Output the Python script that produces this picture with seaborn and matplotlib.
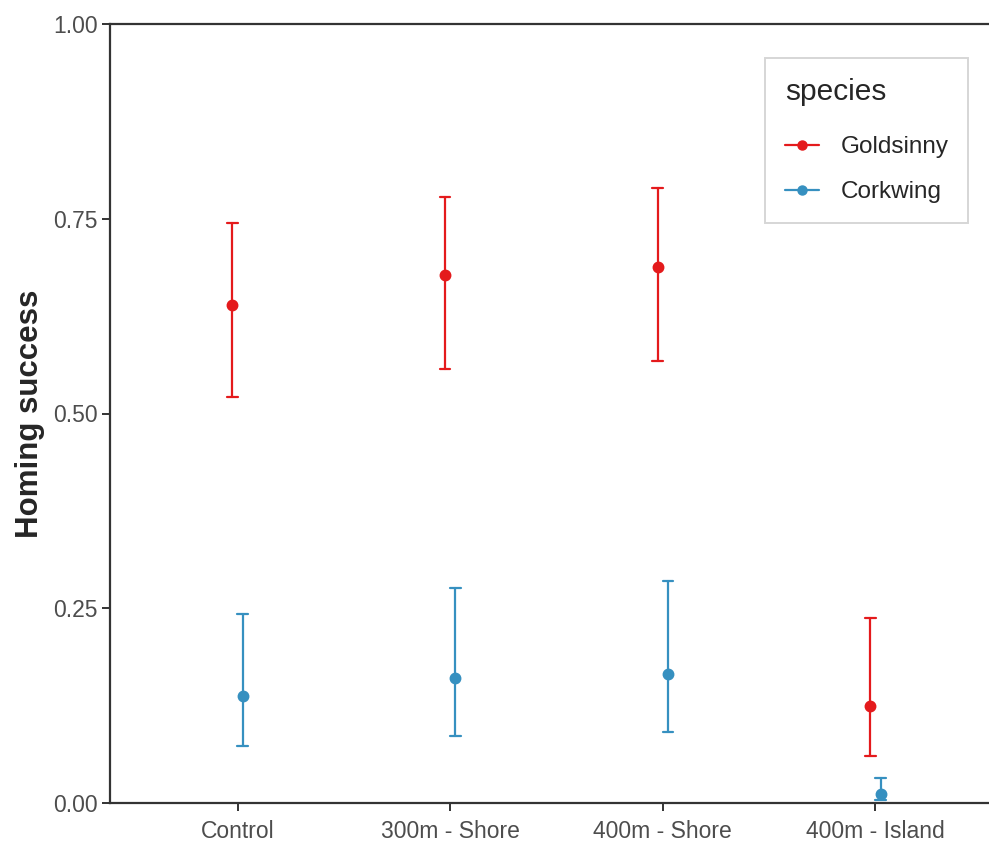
import matplotlib
matplotlib.use("Agg")
import matplotlib.pyplot as plt
from matplotlib.lines import Line2D
import seaborn as sns
import pandas as pd
import numpy as np

# ---- data ----
sites = ["Control", "300m - Shore", "400m - Shore", "400m - Island"]
species = ["Goldsinny", "Corkwing"]
gold_est = [0.639, 0.678, 0.688, 0.125]
gold_lo = [0.521, 0.557, 0.567, 0.060]
gold_hi = [0.745, 0.778, 0.789, 0.238]
cork_est = [0.137, 0.160, 0.166, 0.012]
cork_lo = [0.073, 0.086, 0.091, 0.004]
cork_hi = [0.243, 0.276, 0.285, 0.032]
colors = {"Goldsinny": "#E41A1C", "Corkwing": "#3690C0"}

rows = []
for sp, est, lo, hi in [("Goldsinny", gold_est, gold_lo, gold_hi),
                        ("Corkwing", cork_est, cork_lo, cork_hi)]:
    for s, e, l, h in zip(sites, est, lo, hi):
        for v in (l, e, h):
            rows.append({"site": s, "species": sp, "value": v})
df = pd.DataFrame(rows)

sns.set_style("white")
plt.rcParams["font.family"] = ["Liberation Sans", "DejaVu Sans"]

fig = plt.figure(figsize=(9.89, 8.42), dpi=100)
ax = fig.add_axes([110 / 989, 39 / 842, 893 / 989, 779 / 842])

sns.pointplot(data=df, x="site", y="value", hue="species", order=sites,
              hue_order=species, palette=colors, estimator="median",
              errorbar=lambda v: (np.min(v), np.max(v)), dodge=0.048,
              linestyle="none", capsize=0.05, markersize=6.5,
              err_kws={"linewidth": 1.6}, ax=ax, legend=False)

ax.set_xlim(-0.6, 3.6)
ax.set_ylim(0, 1)
ax.set_yticks([0, 0.25, 0.5, 0.75, 1.0])
ax.set_yticklabels(["0.00", "0.25", "0.50", "0.75", "1.00"])
ax.set_xlabel("")
ax.set_ylabel("Homing success", fontsize=22.5, fontweight="bold", labelpad=6)

axis_col = "#333333"
for side in ["left", "bottom", "top"]:
    ax.spines[side].set_visible(True)
    ax.spines[side].set_color(axis_col)
    ax.spines[side].set_linewidth(1.6)
ax.spines["right"].set_visible(False)
ax.tick_params(axis="both", colors=axis_col, length=6, width=1.4,
               labelsize=16.5, labelcolor="#4d4d4d", left=True, bottom=True)
ax.tick_params(axis="y", pad=3)
ax.tick_params(axis="x", pad=6)

handles = [Line2D([0], [0], color=colors[s], marker="o", markersize=6.5,
                  linewidth=1.6) for s in species]
leg = ax.legend(handles, species, title="species", loc="upper right",
                bbox_to_anchor=(0.961, 0.956), borderaxespad=0,
                frameon=True, fancybox=False, fontsize=17.5, title_fontsize=21.5,
                handlelength=1.4, handletextpad=0.9, labelspacing=0.95,
                borderpad=0.8)
leg._legend_box.align = "left"
leg._legend_box.sep = 22
leg.get_frame().set_edgecolor("#cccccc")
leg.get_frame().set_linewidth(1.4)

fig.savefig("out.png", dpi=100)
